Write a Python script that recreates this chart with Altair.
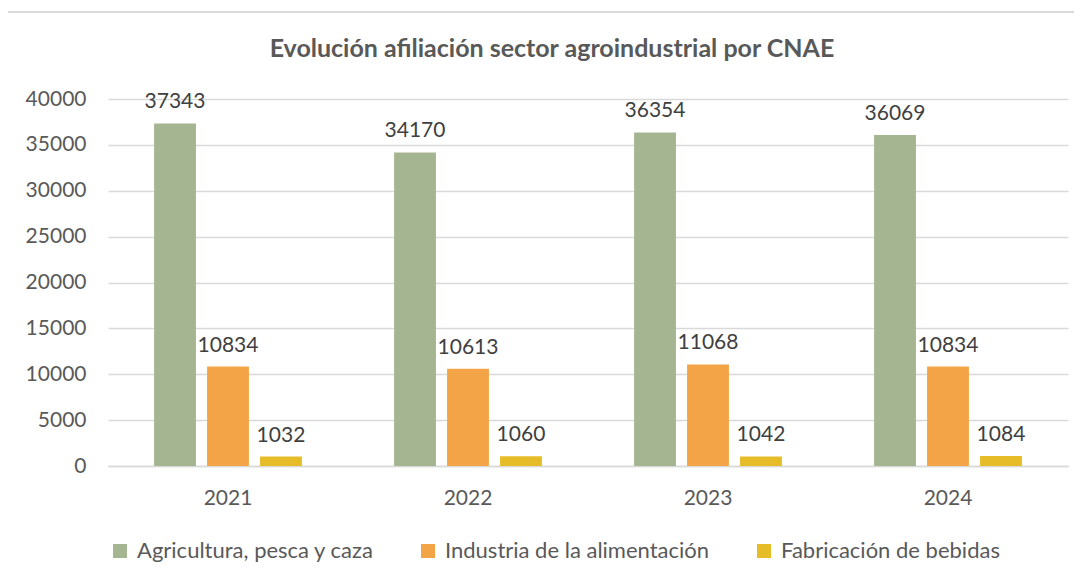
import altair as alt
import pandas as pd

years = ["2021", "2022", "2023", "2024"]
series = ["Agricultura, pesca y caza", "Industria de la alimentación", "Fabricación de bebidas"]
agricultura = [37343, 34170, 36354, 36069]
alimentacion = [10834, 10613, 11068, 10834]
bebidas = [1032, 1060, 1042, 1084]
colors = ["#A5B592", "#F3A447", "#E7BC29"]

rows = []
for i, y in enumerate(years):
    for s, vals in zip(series, [agricultura, alimentacion, bebidas]):
        rows.append({"year": y, "serie": s, "value": vals[i]})
df = pd.DataFrame(rows)

FONT = "Lato"
GRAY = "#595959"
FS = 21

base = alt.Chart(df).encode(
    x=alt.X("year:N", sort=years, title=None,
            scale=alt.Scale(paddingInner=0, paddingOuter=0),
            axis=alt.Axis(labelAngle=0, labelFontSize=FS, labelColor=GRAY, labelFont=FONT,
                          ticks=False, domainColor="#D9D9D9", domainWidth=1.5, labelPadding=21)),
    xOffset=alt.XOffset("serie:N", sort=series,
                        scale=alt.Scale(paddingInner=0.21, paddingOuter=0.87)),
    y=alt.Y("value:Q", title=None,
            scale=alt.Scale(domain=[0, 40000], nice=False),
            axis=alt.Axis(values=list(range(0, 40001, 5000)), format="d", labelFontSize=FS,
                          labelColor=GRAY, labelFont=FONT, ticks=False, domain=False,
                          gridColor="#D9D9D9", gridWidth=1.5, labelPadding=22)),
)

bars = base.mark_bar().encode(
    color=alt.Color("serie:N", sort=series,
                    scale=alt.Scale(domain=series, range=colors),
                    legend=alt.Legend(title=None, orient="none", legendX=1, legendY=441,
                                      direction="horizontal", columns=3, symbolType="square",
                                      symbolSize=196, symbolStrokeWidth=0, labelFontSize=22,
                                      labelColor=GRAY, labelFont=FONT, columnPadding=43,
                                      labelOffset=6, labelLimit=400, symbolOpacity=1))
)

labels = base.mark_text(baseline="bottom", dy=-11, fontSize=FS, font=FONT, color="#404040").encode(
    text=alt.Text("value:Q", format="d")
)

border = alt.Chart(pd.DataFrame({"k": [0]})).mark_rect(
    fill=None, stroke="#D9D9D9", strokeWidth=2
).encode(x=alt.value(-101), x2=alt.value(1000), y=alt.value(-87), y2=alt.value(700))

chart = alt.layer(border, bars, labels).properties(
    width=960, height=367,
    title=alt.TitleParams("Evolución afiliación sector agroindustrial por CNAE",
                          fontSize=25, font=FONT, fontWeight="bold", color=GRAY,
                          anchor="middle", dx=-36, offset=-51),
    autosize=alt.AutoSizeParams(type="none"),
    padding={"left": 100, "top": 91, "right": 6, "bottom": 107},
).configure(background="white").configure_view(stroke=None)

chart.save("out.html", embed_options={"renderer": "svg", "actions": False})
